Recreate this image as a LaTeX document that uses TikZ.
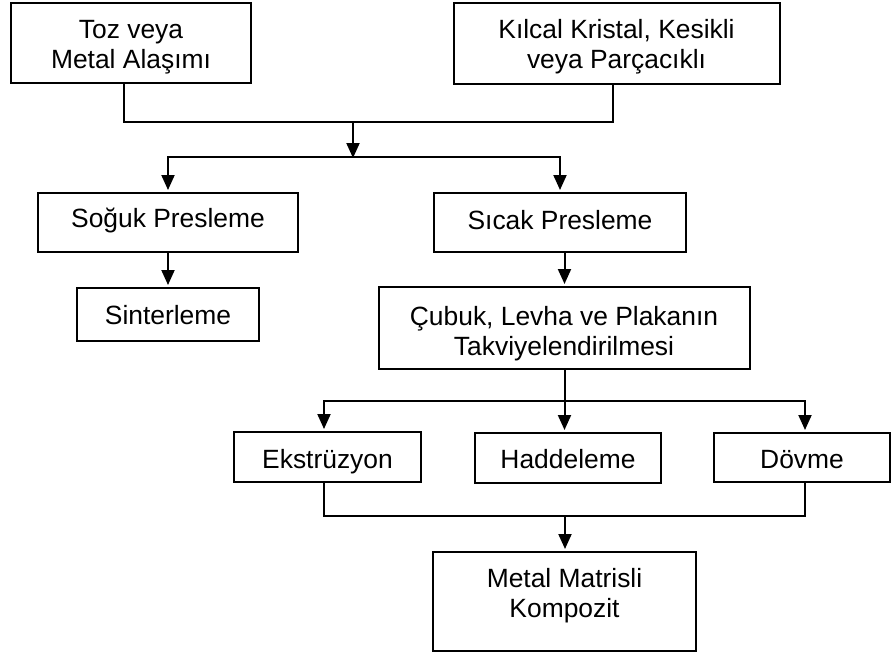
\documentclass[tikz,border=0pt]{standalone}
\usepackage{fontspec}
\setmainfont{Liberation Sans}
\usetikzlibrary{arrows.meta}

\tikzset{
  box/.style={draw, line width=2pt, inner sep=0pt, align=center,
              font=\fontsize{26.4pt}{30pt}\selectfont},
  lbl/.style={inner sep=0pt, anchor=base,
              font=\fontsize{26.4pt}{30pt}\selectfont},
  link/.style={line width=2pt},
  arr/.style={line width=2pt, -{Triangle[length=15pt,width=13pt]}, shorten >=2pt}
}

\begin{document}
\begin{tikzpicture}[x=1pt, y=-1pt]
  \useasboundingbox (0,0) rectangle (891,654);

  % process steps (two-line boxes get their lines set separately)
  \node[box, minimum width=240pt, minimum height=80pt] (toz) at (131,43) {};
  \node[lbl] (toz-a) at (131,38) {Toz veya};
  \node[lbl] (toz-b) at (131,68) {Metal Alaşımı};

  \node[box, minimum width=326pt, minimum height=81pt] (kilcal) at (617,43.5) {};
  \node[lbl] (kilcal-a) at (616.5,38) {Kılcal Kristal, Kesikli};
  \node[lbl] (kilcal-b) at (616.5,68) {veya Parçacıklı};

  \node[box, minimum width=260pt, minimum height=59pt, text height=17pt, text depth=7pt] (soguk) at (168,222.5) {Soğuk Presleme};
  \node[box, minimum width=252pt, minimum height=59pt, text height=18.5pt, text depth=5.5pt] (sicak) at (560,222.5) {Sıcak Presleme};
  \node[box, minimum width=182pt, minimum height=53pt, text height=21.5pt, text depth=2.5pt] (sinter) at (168,314.5) {Sinterleme};

  \node[box, minimum width=371pt, minimum height=82pt] (cubuk) at (564.5,328) {};
  \node[lbl] (cubuk-a) at (564,325) {Çubuk, Levha ve Plakanın};
  \node[lbl] (cubuk-b) at (564,355) {Takviyelendirilmesi};

  \node[box, minimum width=187pt, minimum height=50pt, text height=23pt, text depth=1pt] (ekstr) at (327.5,457) {Ekstrüzyon};
  \node[box, minimum width=186pt, minimum height=50pt, text height=22pt, text depth=2pt] (hadde) at (568,458) {Haddeleme};
  \node[box, minimum width=176pt, minimum height=49pt, text height=22.5pt, text depth=1.5pt] (dovme) at (802,457.5) {Dövme};

  \node[box, minimum width=263pt, minimum height=99pt] (mmk) at (564.5,601.5) {};
  \node[lbl] (mmk-a) at (564.5,587) {Metal Matrisli};
  \node[lbl] (mmk-b) at (564.5,617.5) {Kompozit};

  % junction points
  \coordinate (j1) at (353,122);
  \coordinate (j2) at (353,157);
  \coordinate (j3) at (564.5,401);
  \coordinate (j4) at (565,516);

  % raw materials merge
  \draw[link] ([xshift=-7pt]toz.south) |- (j1) -| ([xshift=-4pt]kilcal.south);
  \draw[arr, shorten >=0pt] (j1) -- ([yshift=-1pt]j2);

  % pressing routes
  \draw[arr] (j2) -| (soguk.north);
  \draw[arr] (j2) -| (sicak.north);
  \draw[arr] (soguk.south) -- (sinter.north);
  \draw[arr] (cubuk.north |- sicak.south) -- (cubuk.north);

  % forming routes
  \draw[link] (cubuk.south) -- (j3);
  \draw[arr] (j3) -| ([xshift=-3.5pt]ekstr.north);
  \draw[arr] (j3) -- (hadde.north -| j3);
  \draw[arr] (j3) -| ([xshift=3pt]dovme.north);

  % final product
  \draw[link] ([xshift=-3.5pt]ekstr.south) |- (j4) -| ([xshift=3pt]dovme.south);
  \draw[arr] (j4) -- (mmk.north -| j4);
\end{tikzpicture}
\end{document}
